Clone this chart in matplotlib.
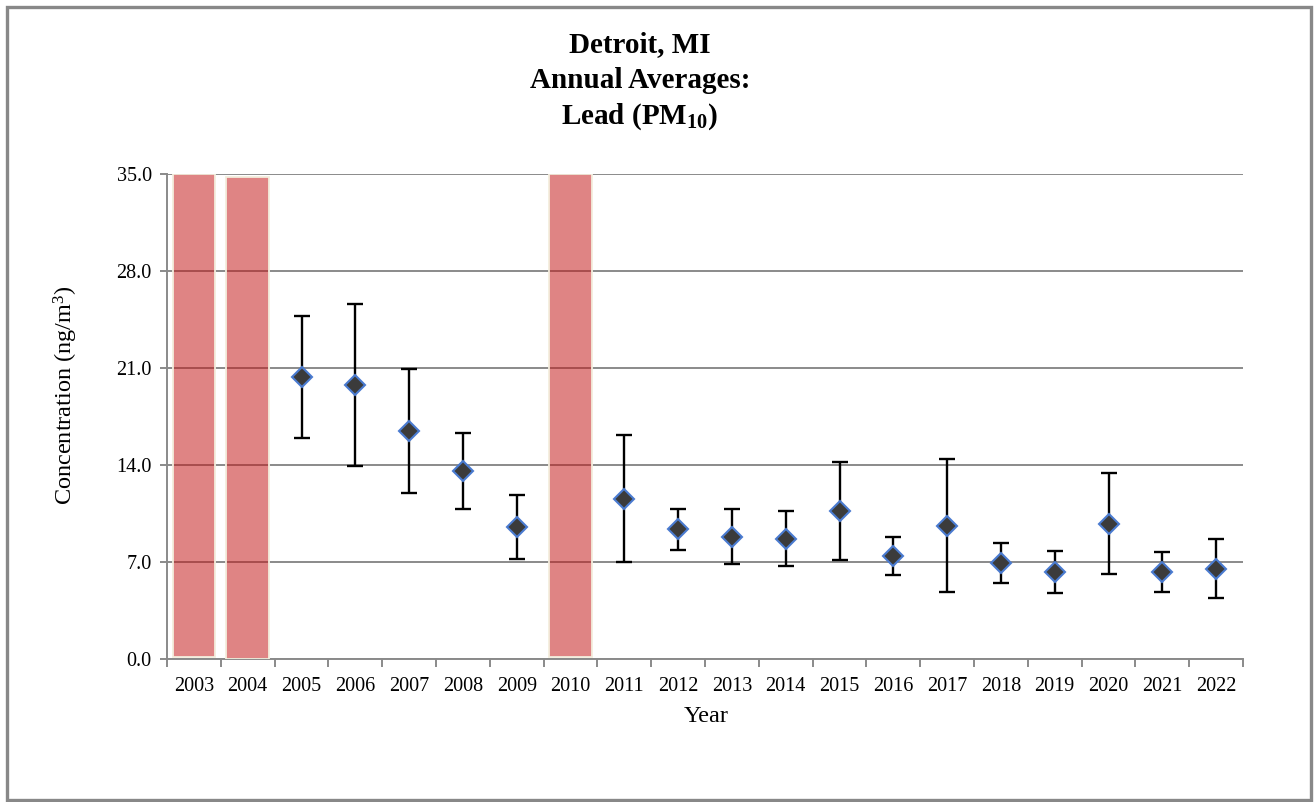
import matplotlib
matplotlib.use("Agg")
import matplotlib.pyplot as plt
import numpy as np
from matplotlib.patches import Rectangle

plt.rcParams['font.family'] = ['Liberation Serif', 'DejaVu Serif']
plt.rcParams['mathtext.fontset'] = 'custom'
plt.rcParams['mathtext.rm'] = 'Liberation Serif'
plt.rcParams['mathtext.bf'] = 'Liberation Serif:bold'
plt.rcParams['mathtext.it'] = 'Liberation Serif:italic'

# Data
years = [str(y) for y in range(2003, 2023)]
# Annual average lead concentration (ng/m3); None = no valid annual average
averages = [None, None, 20.33, 19.77, 16.48, 13.57, 9.53, None, 11.57, 9.36,
            8.83, 8.68, 10.68, 7.41, 9.60, 6.93, 6.30, 9.77, 6.28, 6.52]
# 95% confidence interval half-widths
ci_half = [None, None, 4.41, 5.83, 4.47, 2.77, 2.32, None, 4.57, 1.48,
           2.00, 1.97, 3.57, 1.38, 4.80, 1.41, 1.52, 3.63, 1.44, 2.15]
# Shaded columns for years without a complete annual average
flag_years = ['2003', '2004', '2010']
flag_bottom = [0.15, 0.0, 0.12]
flag_top = [35.0, 34.8, 35.0]
yticks = [0.0, 7.0, 14.0, 21.0, 28.0, 35.0]

fig = plt.figure(figsize=(13.16, 8.02), dpi=100)
ax = fig.add_axes([167 / 1316, 1 - 659 / 802, (1243 - 167) / 1316, (659 - 174) / 802])

x = np.arange(len(years))
grid_color = '#8a8a8a'

ax.set_xlim(-0.5, len(years) - 0.5)
ax.set_ylim(0, 35)
ax.set_yticks(yticks)
ax.set_yticklabels([f"{v:.1f}" for v in yticks], fontsize=14.5)
ax.yaxis.grid(True, color=grid_color, linewidth=1.4, zorder=0)
ax.set_axisbelow(True)

# flagged-year columns
fx = [years.index(y) for y in flag_years]
heights = [t - b for t, b in zip(flag_top, flag_bottom)]
ax.bar(fx, heights, bottom=flag_bottom, width=0.79, color=(0.76, 0.08, 0.08),
       alpha=0.52, edgecolor='none', zorder=2)
ax.bar(fx, heights, bottom=flag_bottom, width=0.79, facecolor='none',
       edgecolor='#f3eedd', linewidth=1.3, zorder=3)

# annual averages with confidence intervals
px = [i for i, v in enumerate(averages) if v is not None]
py = [averages[i] for i in px]
pe = [ci_half[i] for i in px]
ax.errorbar(px, py, yerr=pe, fmt='none', ecolor='black', elinewidth=1.7,
            capsize=5.5, capthick=1.7, zorder=4)
ax.plot(px, py, linestyle='none', marker='D', markersize=10,
        markerfacecolor='#3b3b3b', markeredgecolor='#4a7bd0',
        markeredgewidth=1.5, zorder=5)

# axes styling
for s in ['top', 'right']:
    ax.spines[s].set_visible(False)
ax.spines['left'].set_color(grid_color)
ax.spines['left'].set_linewidth(1.4)
ax.spines['bottom'].set_color(grid_color)
ax.spines['bottom'].set_linewidth(1.4)
ax.tick_params(axis='y', direction='out', length=5, width=1.4, color=grid_color, pad=6)

ax.set_xticks(np.arange(-0.5, len(years), 1.0))
ax.set_xticklabels([])
ax.set_xticks(x, minor=True)
ax.set_xticklabels(years, minor=True, fontsize=14.5)
ax.tick_params(axis='x', which='major', direction='out', length=6, width=1.4, color=grid_color)
ax.tick_params(axis='x', which='minor', length=0, pad=13)

fig.text(706 / 1316, 1 - 716 / 802, 'Year', ha='center', va='center', fontsize=17.5)
fig.text(66 / 1316, 1 - 395 / 802, r'Concentration (ng/m$^{\mathrm{3}}$)', ha='center',
         va='center', rotation=90, fontsize=17.5)

fig.text(640 / 1316, 1 - 45 / 802, 'Detroit, MI', ha='center', va='center',
         fontsize=21, fontweight='bold')
fig.text(640 / 1316, 1 - 81 / 802, 'Annual Averages:', ha='center', va='center',
         fontsize=21, fontweight='bold')
fig.text(640 / 1316, 1 - 117 / 802, r'Lead (PM$_{\mathbf{10}}$)', ha='center', va='center',
         fontsize=21, fontweight='bold')

# chart frame
fig.patches.append(Rectangle((7 / 1316, 2 / 802), 1304 / 1316, 793 / 802,
                             transform=fig.transFigure, fill=False,
                             edgecolor='#888888', linewidth=2.4))

fig.savefig('out.png', dpi=100)
